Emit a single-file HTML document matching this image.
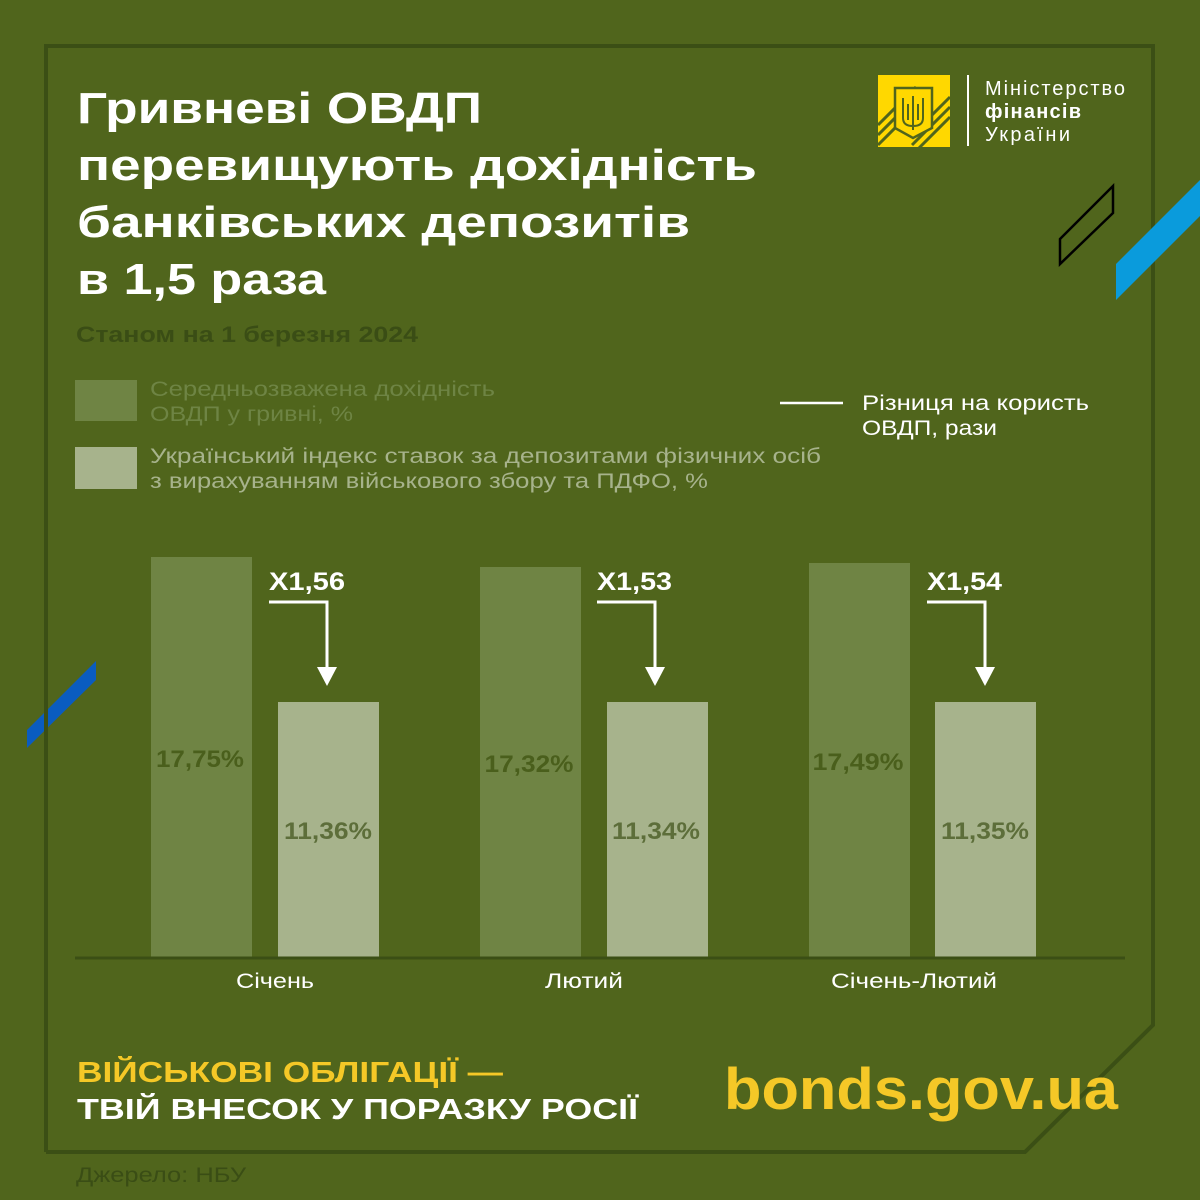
<!DOCTYPE html>
<html><head><meta charset="utf-8"><style>
html,body{margin:0;padding:0;background:#50651c;}
svg{display:block}
text{font-family:"Liberation Sans",sans-serif;}
</style></head><body>
<svg width="1200" height="1200" viewBox="0 0 1200 1200" xmlns="http://www.w3.org/2000/svg">
<rect width="1200" height="1200" fill="#50651c"/>
<polygon points="27,730 96,661 96,680 27,748" fill="#0a5cc0"/>
<!-- frame -->
<polyline points="46,1152 1025,1152 1153,1025 1153,46 46,46 46,1152" fill="none" stroke="#3b4f15" stroke-width="4"/>
<polygon points="1116,264 1200,180 1200,216 1116,300" fill="#0a9bdc"/>
<polygon points="1060,239 1113,186 1113,213 1060,264" fill="none" stroke="#000" stroke-width="2.5"/>
<!-- logo -->
<rect x="878" y="75" width="72" height="72" fill="#ffd800"/>
<g stroke="#50651c" stroke-width="3">
<line x1="878" y1="125" x2="916" y2="87"/><line x1="878" y1="135" x2="916" y2="97"/><line x1="878" y1="145" x2="916" y2="107"/>
<line x1="912" y1="135" x2="950" y2="97"/><line x1="912" y1="145" x2="950" y2="107"/><line x1="918" y1="149" x2="950" y2="117"/>
</g>
<path d="M895,88 H932 V128 L913,138 L895,128 Z" fill="#ffd800" stroke="#50651c" stroke-width="2.5"/>
<path d="M913,96 V130 M903,98 V118 Q903,126 913,126 Q923,126 923,118 V98 M908,104 V120 M918,104 V120" fill="none" stroke="#50651c" stroke-width="2"/>
<line x1="968" y1="75" x2="968" y2="146" stroke="#fff" stroke-width="2"/>
<text x="985" y="95" font-size="20" fill="#fff" textLength="140">Міністерство</text>
<text x="985" y="118" font-size="20" font-weight="bold" fill="#fff" textLength="96">фінансів</text>
<text x="985" y="141" font-size="20" fill="#fff" textLength="85">України</text>
<!-- title -->
<g font-size="44" font-weight="bold" fill="#fff">
<text x="77" y="123" textLength="405" lengthAdjust="spacingAndGlyphs">Гривневі ОВДП</text>
<text x="77" y="180" textLength="680" lengthAdjust="spacingAndGlyphs">перевищують дохідність</text>
<text x="77" y="237" textLength="613" lengthAdjust="spacingAndGlyphs">банківських депозитів</text>
<text x="77" y="294" textLength="249" lengthAdjust="spacingAndGlyphs">в 1,5 раза</text>
</g>
<text x="76" y="342" font-size="22" font-weight="bold" fill="#3a4d15" textLength="342" lengthAdjust="spacingAndGlyphs">Станом на 1 березня 2024</text>
<!-- legend -->
<rect x="75" y="380" width="62" height="41" fill="#6f8444"/>
<rect x="75" y="447" width="62" height="42" fill="#a7b38c"/>
<g font-size="21">
<text x="150" y="396" fill="#6e8444" textLength="345" lengthAdjust="spacingAndGlyphs">Середньозважена дохідність</text>
<text x="150" y="421" fill="#6e8444" textLength="203" lengthAdjust="spacingAndGlyphs">ОВДП у гривні, %</text>
<text x="150" y="463" fill="#a7b38c" textLength="671" lengthAdjust="spacingAndGlyphs">Український індекс ставок за депозитами фізичних осіб</text>
<text x="150" y="488" fill="#a7b38c" textLength="558" lengthAdjust="spacingAndGlyphs">з вирахуванням військового збору та ПДФО, %</text>
</g>
<line x1="780" y1="403" x2="843" y2="403" stroke="#fff" stroke-width="2.5"/>
<text x="862" y="410" font-size="21" fill="#fff" textLength="227" lengthAdjust="spacingAndGlyphs">Різниця на користь</text>
<text x="862" y="435" font-size="21" fill="#fff" textLength="135" lengthAdjust="spacingAndGlyphs">ОВДП, рази</text>
<!-- bars -->
<rect x="151" y="557" width="101" height="401" fill="#6f8444"/>
<rect x="278" y="702" width="101" height="256" fill="#a7b38c"/>
<rect x="480" y="567" width="101" height="391" fill="#6f8444"/>
<rect x="607" y="702" width="101" height="256" fill="#a7b38c"/>
<rect x="809" y="563" width="101" height="395" fill="#6f8444"/>
<rect x="935" y="702" width="101" height="256" fill="#a7b38c"/>
<line x1="75" y1="958" x2="1125" y2="958" stroke="#3b4f15" stroke-width="3"/>
<g font-size="24" font-weight="bold" text-anchor="middle">
<text x="200" y="767" fill="#4a5f1c" textLength="88" lengthAdjust="spacingAndGlyphs">17,75%</text>
<text x="529" y="772" fill="#4a5f1c" textLength="89" lengthAdjust="spacingAndGlyphs">17,32%</text>
<text x="858" y="770" fill="#4a5f1c" textLength="91" lengthAdjust="spacingAndGlyphs">17,49%</text>
<text x="328" y="839" fill="#5d6e3a" textLength="88" lengthAdjust="spacingAndGlyphs">11,36%</text>
<text x="656" y="839" fill="#5d6e3a" textLength="88" lengthAdjust="spacingAndGlyphs">11,34%</text>
<text x="985" y="839" fill="#5d6e3a" textLength="88" lengthAdjust="spacingAndGlyphs">11,35%</text>
</g>
<!-- multipliers -->
<g font-size="25" font-weight="bold" fill="#fff">
<text x="269" y="590" textLength="76" lengthAdjust="spacingAndGlyphs">X1,56</text>
<text x="597" y="590" textLength="75" lengthAdjust="spacingAndGlyphs">X1,53</text>
<text x="927" y="590" textLength="75" lengthAdjust="spacingAndGlyphs">X1,54</text>
</g>
<g fill="none" stroke="#fff" stroke-width="3">
<polyline points="269,602 327,602 327,670"/>
<polyline points="597,602 655,602 655,670"/>
<polyline points="927,602 985,602 985,670"/>
</g>
<g fill="#fff">
<polygon points="317,667 337,667 327,686"/>
<polygon points="645,667 665,667 655,686"/>
<polygon points="975,667 995,667 985,686"/>
</g>
<!-- months -->
<g font-size="21" fill="#fff" text-anchor="middle">
<text x="275" y="988" textLength="78" lengthAdjust="spacingAndGlyphs">Січень</text>
<text x="584" y="988" textLength="78" lengthAdjust="spacingAndGlyphs">Лютий</text>
<text x="914" y="988" textLength="166" lengthAdjust="spacingAndGlyphs">Січень-Лютий</text>
</g>
<!-- footer -->
<text x="77" y="1082" font-size="29" font-weight="bold" fill="#f5c827" textLength="426" lengthAdjust="spacingAndGlyphs">ВІЙСЬКОВІ ОБЛІГАЦІЇ —</text>
<text x="77" y="1119" font-size="29" font-weight="bold" fill="#fff" textLength="561" lengthAdjust="spacingAndGlyphs">ТВІЙ ВНЕСОК У ПОРАЗКУ РОСІЇ</text>
<text x="724" y="1109" font-size="58" font-weight="bold" fill="#f5c827" textLength="394" lengthAdjust="spacingAndGlyphs">bonds.gov.ua</text>
<text x="76" y="1182" font-size="21" fill="#3a4d15" textLength="170" lengthAdjust="spacingAndGlyphs">Джерело: НБУ</text>
</svg>
</body></html>
